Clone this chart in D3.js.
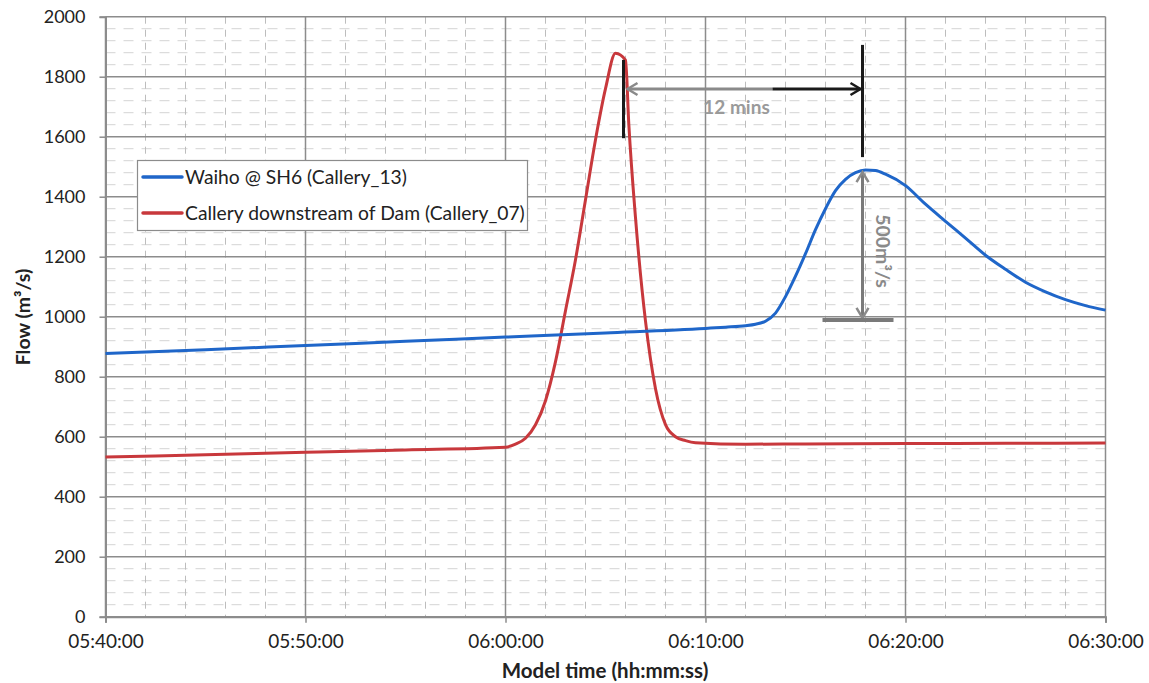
<!DOCTYPE html>
<html><head><meta charset="utf-8">
<script src="https://cdn.jsdelivr.net/npm/d3@7/dist/d3.min.js"></script>
<style>
body{margin:0;background:#fff;}
text{font-family:Lato,"Open Sans",sans-serif;fill:#222;}
</style></head>
<body><svg id="c" width="1149" height="683"></svg>
<script>
// ---- data ----
const waihoTimes = ["05:40:00","05:45:00","05:50:00","05:55:00","06:00:00","06:05:00","06:10:00","06:11:00","06:12:00","06:12:30","06:13:00","06:13:30","06:14:00","06:14:30","06:15:00","06:15:30","06:16:00","06:16:30","06:17:00","06:17:30","06:18:00","06:18:30","06:19:00","06:20:00","06:21:00","06:22:00","06:23:00","06:24:00","06:25:00","06:26:00","06:27:00","06:28:00","06:29:00","06:30:00"];
const waihoFlow  = [877,890,904,918,932,946,961,965,970,975,985,1012,1067,1135,1210,1290,1360,1420,1458,1480,1489,1487,1475,1437,1375,1318,1262,1205,1158,1115,1083,1057,1037,1022];
const calleryTimes = ["05:40:00","05:45:00","05:50:00","05:55:00","06:00:00","06:00:30","06:01:00","06:01:30","06:02:00","06:02:30","06:03:00","06:03:30","06:04:00","06:04:30","06:05:00","06:05:30","06:06:00","06:06:10","06:06:30","06:07:00","06:07:30","06:08:00","06:08:30","06:09:00","06:09:30","06:12:00","06:15:00","06:20:00","06:25:00","06:30:00"];
const calleryFlow  = [532,540,548,556,565,575,595,640,720,850,1020,1190,1390,1590,1760,1878,1855,1640,1330,985,760,640,600,587,580,575,576,577,578,579];
const seriesNames = ["Waiho @ SH6 (Callery_13)","Callery downstream of Dam (Callery_07)"];
const seriesColors = ["#1f66c9","#c8383c"];
const yTicks = [0,200,400,600,800,1000,1200,1400,1600,1800,2000];
const xTickLabels = ["05:40:00","05:50:00","06:00:00","06:10:00","06:20:00","06:30:00"];
const lagText = "12 mins";
const riseText = "500m³/s";
// annotation anchors (data space)
const lagY = 1759, lagStart = "06:06:06", lagMid = "06:13:21", lagEnd = "06:17:45";
const peak1Line = {t:"06:05:54", y0:1595, y1:1856};
const peak2Line = {t:"06:17:51", y0:1532, y1:1906};
const riseArrow = {t:"06:17:51", y0:996, y1:1482};
const baseLine = {t0:"06:15:51", t1:"06:19:24", y:989};
const lagLabel = {t:"06:11:33", y:1699};
const riseLabel = {t:"06:18:51", y:1219};

// ---- layout ----
const parse = d3.timeParse("%H:%M:%S");
const svg = d3.select("#c");
const m = {l:105.5, t:16.7, w:1000, h:600};
const x = d3.scaleTime().domain([parse("05:40:00"), parse("06:30:00")]).range([m.l, m.l+m.w]);
const y = d3.scaleLinear().domain([0,2000]).range([m.t+m.h, m.t]);

svg.append("rect").attr("width",1149).attr("height",683).attr("fill","#fff");

// minor grid
const g = svg.append("g");
g.selectAll(".mh").data(d3.range(0,2001,40).filter(v=>v%200!==0)).enter().append("line")
  .attr("x1",m.l).attr("x2",m.l+m.w).attr("y1",d=>y(d)).attr("y2",d=>y(d))
  .attr("stroke","#d4d4d4").attr("stroke-width",1).attr("stroke-dasharray","10,8");
const minorT = d3.timeMinute.every(2).range(parse("05:40:00"), parse("06:30:01")).filter(d=>d.getMinutes()%10!==0);
g.selectAll(".mv").data(minorT).enter().append("line")
  .attr("x1",d=>x(d)).attr("x2",d=>x(d)).attr("y1",m.t).attr("y2",m.t+m.h)
  .attr("stroke","#bdbdbd").attr("stroke-width",1).attr("stroke-dasharray","7,6");
// major grid
const majorT = xTickLabels.map(parse);
g.selectAll(".Mh").data(yTicks).enter().append("line")
  .attr("x1",m.l).attr("x2",m.l+m.w).attr("y1",d=>y(d)).attr("y2",d=>y(d))
  .attr("stroke","#8c8c8c").attr("stroke-width",1.5);
g.selectAll(".Mv").data(majorT).enter().append("line")
  .attr("x1",d=>x(d)).attr("x2",d=>x(d)).attr("y1",m.t).attr("y2",m.t+m.h)
  .attr("stroke","#8c8c8c").attr("stroke-width",1.5);

// axes
const yAxis = d3.axisLeft(y).tickValues(yTicks).tickSize(6).tickPadding(14).tickFormat(d3.format("d"));
const ya = svg.append("g").attr("transform",`translate(${m.l},0)`).call(yAxis);
ya.select(".domain").attr("stroke","#8c8c8c").attr("stroke-width",2);
ya.selectAll(".tick line").attr("stroke","#8c8c8c").attr("stroke-width",1.5);
ya.selectAll("text").attr("font-size",18).attr("font-family","Lato").attr("fill","#222");

const xAxis = d3.axisBottom(x).tickValues(majorT).tickSize(6).tickPadding(12).tickFormat(d3.timeFormat("%H:%M:%S"));
const xa = svg.append("g").attr("transform",`translate(0,${m.t+m.h})`).call(xAxis);
xa.select(".domain").attr("stroke","#8c8c8c").attr("stroke-width",2);
xa.selectAll(".tick line").attr("stroke","#8c8c8c").attr("stroke-width",1.5);
xa.selectAll("text").attr("font-size",19).attr("font-family","Lato").attr("fill","#222");

// titles
svg.append("text").attr("x",605).attr("y",678).attr("text-anchor","middle")
  .attr("font-weight","bold").attr("font-size",20.5).text("Model time (hh:mm:ss)");
svg.append("text").attr("transform","translate(30,317) rotate(-90)").attr("text-anchor","middle")
  .attr("font-weight","bold").attr("font-size",19.5).text("Flow (m³/s)");

// series
const line = d3.line().x(d=>x(d[0])).y(d=>y(d[1])).curve(d3.curveMonotoneX);
const blue = waihoTimes.map((t,i)=>[parse(t),waihoFlow[i]]);
const red = calleryTimes.map((t,i)=>[parse(t),calleryFlow[i]]);
svg.append("path").datum(red).attr("d",line).attr("fill","none").attr("stroke",seriesColors[1]).attr("stroke-width",3).attr("stroke-linejoin","round");
svg.append("path").datum(blue).attr("d",line).attr("fill","none").attr("stroke",seriesColors[0]).attr("stroke-width",3).attr("stroke-linejoin","round");

// markers
const defs = svg.append("defs");
function marker(id,color){
  defs.append("marker").attr("id",id).attr("viewBox","-12 -8 14 16").attr("refX",0).attr("refY",0)
    .attr("markerWidth",14).attr("markerHeight",16).attr("markerUnits","userSpaceOnUse").attr("orient","auto-start-reverse")
    .append("path").attr("d","M-10,-6 L0,0 L-10,6").attr("fill","none").attr("stroke",color).attr("stroke-width",2.5);
}
marker("ag","#8a8a8a"); marker("ab","#1a1a1a");

// annotations
svg.append("line").attr("x1",x(parse(peak1Line.t))).attr("x2",x(parse(peak1Line.t)))
  .attr("y1",y(peak1Line.y0)).attr("y2",y(peak1Line.y1)).attr("stroke","#1a1a1a").attr("stroke-width",3);
svg.append("line").attr("x1",x(parse(lagStart))).attr("x2",x(parse(lagMid))).attr("y1",y(lagY)).attr("y2",y(lagY))
  .attr("stroke","#8a8a8a").attr("stroke-width",3).attr("marker-start","url(#ag)");
svg.append("line").attr("x1",x(parse(lagMid))).attr("x2",x(parse(lagEnd))).attr("y1",y(lagY)).attr("y2",y(lagY))
  .attr("stroke","#1a1a1a").attr("stroke-width",3).attr("marker-end","url(#ab)");
svg.append("line").attr("x1",x(parse(peak2Line.t))).attr("x2",x(parse(peak2Line.t)))
  .attr("y1",y(peak2Line.y0)).attr("y2",y(peak2Line.y1)).attr("stroke","#1a1a1a").attr("stroke-width",3);
svg.append("line").attr("x1",x(parse(riseArrow.t))).attr("x2",x(parse(riseArrow.t)))
  .attr("y1",y(riseArrow.y0)).attr("y2",y(riseArrow.y1)).attr("stroke","#7a7a7a").attr("stroke-width",3)
  .attr("marker-start","url(#ag)").attr("marker-end","url(#ag)");
svg.append("line").attr("x1",x(parse(baseLine.t0))).attr("x2",x(parse(baseLine.t1)))
  .attr("y1",y(baseLine.y)).attr("y2",y(baseLine.y)).attr("stroke","#7a7a7a").attr("stroke-width",4);
svg.append("text").attr("x",x(parse(lagLabel.t))).attr("y",y(lagLabel.y)).attr("dy","0.35em")
  .attr("text-anchor","middle").attr("font-weight","bold").attr("font-size",19).style("fill","#9a9a9a").text(lagText);
svg.append("text").attr("transform",`translate(${x(parse(riseLabel.t))},${y(riseLabel.y)}) rotate(90)`).attr("dy","0.35em")
  .attr("text-anchor","middle").attr("font-weight","bold").attr("font-size",19.5).style("fill","#8a8a8a").text(riseText);

// legend
const lg = svg.append("g");
lg.append("rect").attr("x",137.5).attr("y",160.5).attr("width",390).attr("height",70)
  .attr("fill","#fff").attr("stroke","#8c8c8c").attr("stroke-width",1.2);
seriesNames.forEach((n,i)=>{
  const yy = 177 + i*36;
  lg.append("line").attr("x1",143).attr("x2",182).attr("y1",yy).attr("y2",yy).attr("stroke",seriesColors[i]).attr("stroke-width",3.5).attr("stroke-linecap","round");
  lg.append("text").attr("x",185).attr("y",yy).attr("dy","0.35em").attr("font-size",19.3).text(n);
});
</script></body></html>
